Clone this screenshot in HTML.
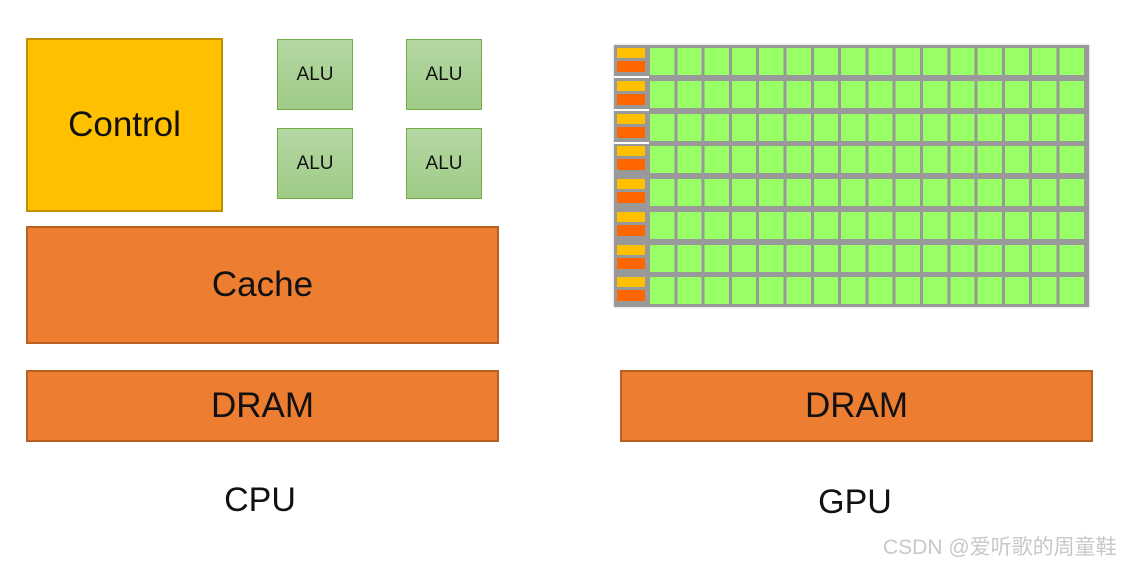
<!DOCTYPE html>
<html><head><meta charset="utf-8"><style>
body{margin:0;width:1122px;height:563px;background:#fff;position:relative;overflow:hidden;font-family:"Liberation Sans","Noto Sans CJK SC",sans-serif}
div{position:absolute;box-sizing:border-box}
.t{display:flex;align-items:center;justify-content:center;color:#111}
.alu{width:76px;height:71px;border:1.5px solid #70AD47;background:linear-gradient(#b5d7a3,#9fcb86);font-size:19px}
.or{background:#ED7D31;border:2px solid #B85F22}
.row{left:647px;width:440px;height:27px;background:repeating-linear-gradient(to right,#999 0 3px,#99FF66 3px 27.3px)}
.y{left:617px;width:28px;height:10px;background:#FFC000}
.o{left:617px;width:28px;height:11px;background:#FF6600}
.sep{left:614px;width:35px;height:2px;background:#fff}
</style></head><body>
<div class="t" style="left:26px;top:38px;width:197px;height:174px;background:#FFC000;border:2px solid #BF9000;font-size:35px">Control</div>
<div class="t alu" style="left:277px;top:39px">ALU</div>
<div class="t alu" style="left:406px;top:39px">ALU</div>
<div class="t alu" style="left:277px;top:128px">ALU</div>
<div class="t alu" style="left:406px;top:128px">ALU</div>
<div class="t or" style="left:26px;top:226px;width:473px;height:118px;font-size:35px">Cache</div>
<div class="t or" style="left:26px;top:370px;width:473px;height:72px;font-size:35px">DRAM</div>
<div class="t or" style="left:620px;top:370px;width:473px;height:72px;font-size:35px">DRAM</div>
<div class="t" style="left:200px;top:478px;width:120px;height:44px;font-size:34px">CPU</div>
<div class="t" style="left:795px;top:480px;width:120px;height:44px;font-size:34px">GPU</div>
<div style="left:614px;top:45px;width:475px;height:262px;background:#999;box-shadow:0 0 2px #bbb"></div>
<div class="row" style="top:48px"></div><div class="y" style="top:48px"></div><div class="o" style="top:61px"></div>
<div class="sep" style="top:76px"></div>
<div class="row" style="top:81px"></div><div class="y" style="top:81px"></div><div class="o" style="top:94px"></div>
<div class="sep" style="top:109px"></div>
<div class="row" style="top:114px"></div><div class="y" style="top:114px"></div><div class="o" style="top:127px"></div>
<div class="sep" style="top:142px"></div>
<div class="row" style="top:146px"></div><div class="y" style="top:146px"></div><div class="o" style="top:159px"></div>
<div class="row" style="top:179px"></div><div class="y" style="top:179px"></div><div class="o" style="top:192px"></div>
<div class="row" style="top:212px"></div><div class="y" style="top:212px"></div><div class="o" style="top:225px"></div>
<div class="row" style="top:245px"></div><div class="y" style="top:245px"></div><div class="o" style="top:258px"></div>
<div class="row" style="top:277px"></div><div class="y" style="top:277px"></div><div class="o" style="top:290px"></div>
<div style="left:883px;top:531px;font-size:21px;color:#c8c8c8;white-space:nowrap">CSDN @爱听歌的周童鞋</div>
</body></html>
